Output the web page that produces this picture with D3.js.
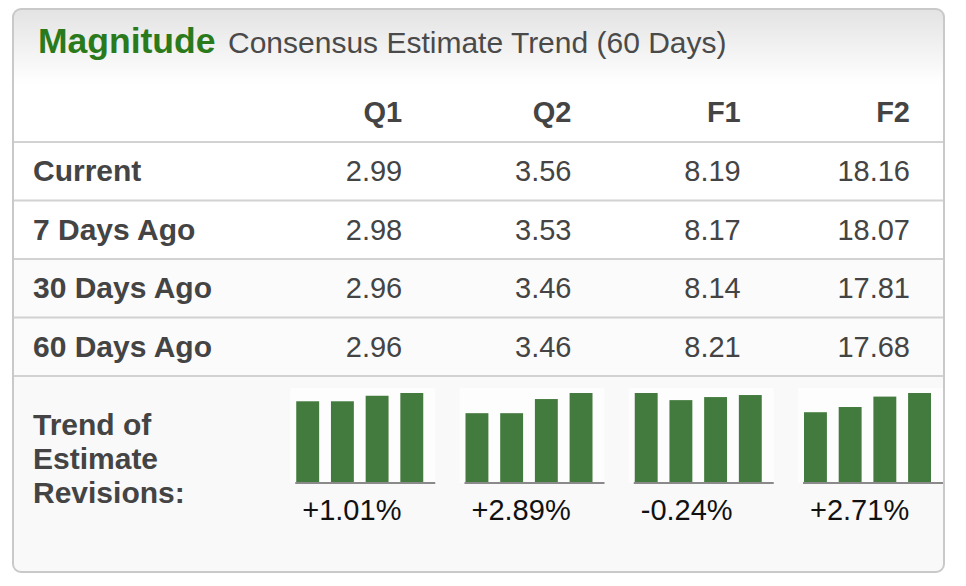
<!DOCTYPE html>
<html>
<head>
<meta charset="utf-8">
<script src="https://cdn.jsdelivr.net/npm/d3@7"></script>
<style>
  html, body { margin: 0; padding: 0; background: #fff; }
  svg { display: block; font-family: "Liberation Sans", Arial, sans-serif; }
</style>
</head>
<body>
<svg id="canvas" width="966" height="586"></svg>
<script>
// chart values
let columns = ["Q1", "Q2", "F1", "F2"];
let periods = ["Current", "7 Days Ago", "30 Days Ago", "60 Days Ago"];
let current = [2.99, 3.56, 8.19, 18.16];
let days7 = [2.98, 3.53, 8.17, 18.07];
let days30 = [2.96, 3.46, 8.14, 17.81];
let days60 = [2.96, 3.46, 8.21, 17.68];
let changeLabels = ["+1.01%", "+2.89%", "-0.24%", "+2.71%"];
let trendLines = ["Trend of", "Estimate", "Revisions:"];

let rowValues = [current, days7, days30, days60];

let canvas = d3.select("#canvas");
let box = { left: 13, top: 9, right: 944, bottom: 572 };

let defs = canvas.append("defs");
let grad = defs.append("linearGradient")
  .attr("id", "headGrad")
  .attr("x1", 0).attr("y1", 0).attr("x2", 0).attr("y2", 1);
grad.append("stop").attr("offset", "0%").attr("stop-color", "#e3e3e3");
grad.append("stop").attr("offset", "100%").attr("stop-color", "#ffffff");
defs.append("clipPath").attr("id", "boxClip")
  .append("rect")
  .attr("x", box.left).attr("y", box.top)
  .attr("width", box.right - box.left).attr("height", box.bottom - box.top)
  .attr("rx", 8);

let inner = canvas.append("g").attr("clip-path", "url(#boxClip)");

// panel background
inner.append("rect")
  .attr("x", box.left).attr("y", box.top)
  .attr("width", box.right - box.left).attr("height", box.bottom - box.top)
  .attr("fill", "#f9f9f9");

// scales for the table
let x = d3.scaleBand().domain(columns).range([233, 910]);
let y = d3.scaleBand().domain(["head"].concat(periods)).range([83.5, 376]);

// header gradient + header row
inner.append("rect")
  .attr("x", box.left).attr("y", box.top)
  .attr("width", box.right - box.left).attr("height", y("head") - box.top)
  .attr("fill", "url(#headGrad)");
inner.append("rect")
  .attr("x", box.left).attr("y", y("head"))
  .attr("width", box.right - box.left).attr("height", y.bandwidth())
  .attr("fill", "#ffffff");

// row backgrounds
inner.selectAll(".rowbg")
  .data(periods)
  .enter()
  .append("rect")
  .attr("class", "rowbg")
  .attr("x", box.left)
  .attr("y", (p) => y(p))
  .attr("width", box.right - box.left)
  .attr("height", y.bandwidth())
  .attr("fill", (p, i) => i < 2 ? "#ffffff" : "#fbfbfb");

// row lines
inner.selectAll(".rowline")
  .data(periods.concat(["end"]))
  .enter()
  .append("line")
  .attr("class", "rowline")
  .attr("x1", box.left).attr("x2", box.right)
  .attr("y1", (p) => p == "end" ? y.range()[1] : y(p))
  .attr("y2", (p) => p == "end" ? y.range()[1] : y(p))
  .attr("stroke", "#d2d2d2")
  .attr("stroke-width", 2);

// title
let title = canvas.append("text")
  .attr("x", 38)
  .attr("y", 53);
title.append("tspan")
  .attr("font-size", 35.5)
  .attr("font-weight", "bold")
  .attr("fill", "#2a7a1c")
  .text("Magnitude");
title.append("tspan")
  .attr("x", 228)
  .attr("font-size", 30)
  .attr("fill", "#4a4a4a")
  .text("Consensus Estimate Trend (60 Days)");

// column headers
canvas.selectAll(".colhead")
  .data(columns)
  .enter()
  .append("text")
  .attr("class", "colhead")
  .attr("x", (c) => x(c) + x.bandwidth())
  .attr("y", y("head") + 38)
  .attr("text-anchor", "end")
  .attr("font-size", 29)
  .attr("font-weight", "bold")
  .attr("fill", "#444")
  .text((c) => c);

// row labels
canvas.selectAll(".rowlabel")
  .data(periods)
  .enter()
  .append("text")
  .attr("class", "rowlabel")
  .attr("x", 33)
  .attr("y", (p) => y(p) + 39)
  .attr("font-size", 30)
  .attr("font-weight", "bold")
  .attr("fill", "#444")
  .text((p) => p);

// cell values
periods.forEach((p, r) => {
  canvas.selectAll(".cell-" + r)
    .data(rowValues[r])
    .enter()
    .append("text")
    .attr("class", "cell-" + r)
    .attr("x", (v, i) => x(columns[i]) + x.bandwidth())
    .attr("y", y(p) + 39)
    .attr("text-anchor", "end")
    .attr("font-size", 29)
    .attr("fill", "#444")
    .text((v) => v.toFixed(2));
});

// trend label
canvas.selectAll(".trendlabel")
  .data(trendLines)
  .enter()
  .append("text")
  .attr("class", "trendlabel")
  .attr("x", 33)
  .attr("y", (t, i) => 435 + i * 34)
  .attr("font-size", 30)
  .attr("font-weight", "bold")
  .attr("fill", "#444")
  .text((t) => t);

// sparklines, oldest to newest
let sparkTop = 388, sparkBase = 483, sparkW = 145;
columns.forEach((c, i) => {
  let series = [days60[i], days30[i], days7[i], current[i]];
  let left = x(c) + x.bandwidth() - 112;
  let g = canvas.append("g").attr("class", "spark");

  g.append("rect")
    .attr("x", left).attr("y", sparkTop)
    .attr("width", sparkW).attr("height", sparkBase - sparkTop)
    .attr("fill", "#fdfdfd");

  let bx = d3.scaleBand()
    .domain(d3.range(series.length))
    .range([left + 6, left + 133])
    .paddingInner(0.34);
  let by = d3.scaleLinear()
    .domain([d3.min(series) * 0.9, d3.max(series)])
    .range([sparkBase, sparkTop + 5]);

  g.selectAll("rect.bar")
    .data(series)
    .enter()
    .append("rect")
    .attr("class", "bar")
    .attr("x", (v, j) => bx(j))
    .attr("y", (v) => by(v))
    .attr("width", bx.bandwidth())
    .attr("height", (v) => sparkBase - by(v))
    .attr("fill", "#437a3d");

  g.append("line")
    .attr("x1", left + 5).attr("x2", left + sparkW)
    .attr("y1", sparkBase).attr("y2", sparkBase)
    .attr("stroke", "#8a8a8a")
    .attr("stroke-width", 2);

  g.append("text")
    .attr("x", left + 12)
    .attr("y", 520)
    .attr("font-size", 29)
    .attr("fill", "#111")
    .text(changeLabels[i]);
});

// outer border
canvas.append("rect")
  .attr("x", box.left).attr("y", box.top)
  .attr("width", box.right - box.left).attr("height", box.bottom - box.top)
  .attr("rx", 8)
  .attr("fill", "none")
  .attr("stroke", "#c9c9c9")
  .attr("stroke-width", 2);
</script>
</body>
</html>
